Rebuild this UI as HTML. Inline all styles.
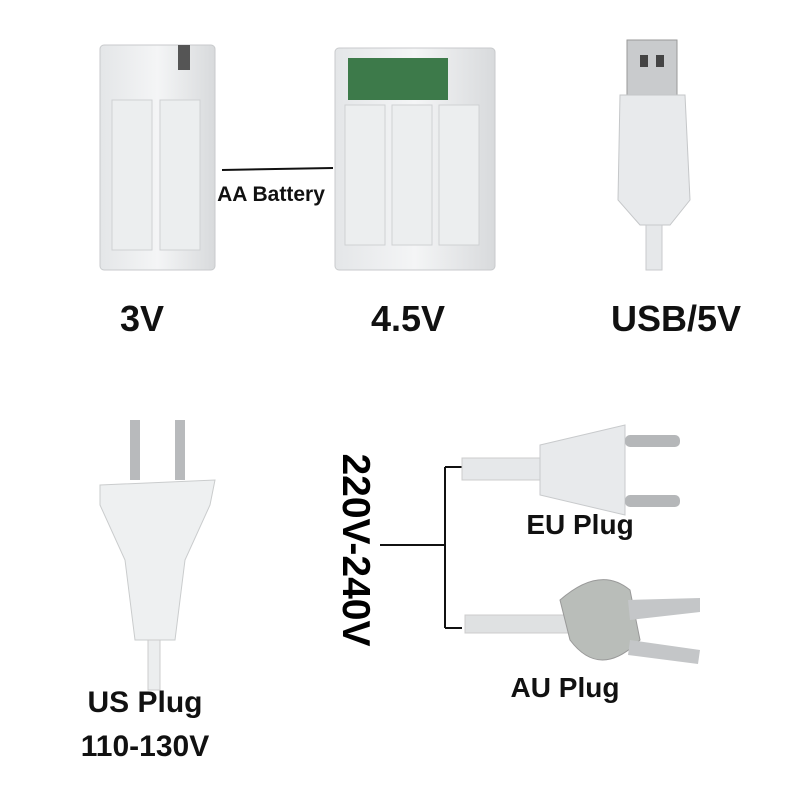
<!DOCTYPE html>
<html><head><meta charset="utf-8"><style>
body{margin:0;width:800px;height:800px;background:#fff;position:relative;overflow:hidden;font-family:"Liberation Sans",Arial,sans-serif}
.t{position:absolute;font-weight:bold;color:#111;white-space:nowrap;transform:translateX(-50%)}
</style></head><body>
<svg width="800" height="800" style="position:absolute;left:0;top:0">
<defs><linearGradient id="g" x1="0" x2="1"><stop offset="0" stop-color="#e4e6e8"/><stop offset="0.5" stop-color="#f4f5f6"/><stop offset="1" stop-color="#d8dadc"/></linearGradient></defs>
<rect x="100" y="45" width="115" height="225" rx="4" fill="url(#g)" stroke="#c8cacc"/>
<rect x="112" y="100" width="40" height="150" fill="#eceeef" stroke="#cfd1d3"/>
<rect x="160" y="100" width="40" height="150" fill="#eceeef" stroke="#cfd1d3"/>
<rect x="178" y="45" width="12" height="25" fill="#555"/>
<rect x="335" y="48" width="160" height="222" rx="4" fill="url(#g)" stroke="#c8cacc"/>
<rect x="348" y="58" width="100" height="42" fill="#3d7a4a"/>
<rect x="345" y="105" width="40" height="140" fill="#eceeef" stroke="#cfd1d3"/>
<rect x="392" y="105" width="40" height="140" fill="#eceeef" stroke="#cfd1d3"/>
<rect x="439" y="105" width="40" height="140" fill="#eceeef" stroke="#cfd1d3"/>
<rect x="627" y="40" width="50" height="60" fill="#c9cbcd" stroke="#999"/>
<rect x="640" y="55" width="8" height="12" fill="#444"/><rect x="656" y="55" width="8" height="12" fill="#444"/>
<path d="M620 95 L685 95 L690 200 L670 225 L640 225 L618 200 Z" fill="#e8eaec" stroke="#c5c7c9"/>
<rect x="646" y="225" width="16" height="45" fill="#e6e8ea" stroke="#c8cacc"/>
<line x1="222" y1="170" x2="333" y2="168" stroke="#111" stroke-width="2"/>
<rect x="130" y="420" width="10" height="60" fill="#b8babc"/><rect x="175" y="420" width="10" height="60" fill="#b8babc"/>
<path d="M100 485 L215 480 L210 505 L185 560 L175 640 L135 640 L125 560 L100 505 Z" fill="#eef0f1" stroke="#cacccd"/>
<rect x="148" y="640" width="12" height="50" fill="#eceeef" stroke="#ccc"/>
<line x1="380" y1="545" x2="445" y2="545" stroke="#111" stroke-width="2"/>
<line x1="445" y1="467" x2="445" y2="628" stroke="#111" stroke-width="2"/>
<line x1="445" y1="467" x2="462" y2="467" stroke="#111" stroke-width="2"/>
<line x1="445" y1="628" x2="462" y2="628" stroke="#111" stroke-width="2"/>
<rect x="462" y="458" width="80" height="22" fill="#e6e8ea" stroke="#ccc"/>
<path d="M540 445 L625 425 L625 515 L540 495 Z" fill="#e8eaec" stroke="#c8cacc"/>
<rect x="625" y="435" width="55" height="12" rx="5" fill="#b5b7b9"/><rect x="625" y="495" width="55" height="12" rx="5" fill="#b5b7b9"/>
<rect x="465" y="615" width="110" height="18" fill="#dfe1e2" stroke="#ccc"/>
<path d="M560 600 Q600 565 630 590 L640 640 Q600 680 570 640 Z" fill="#b9bdb9" stroke="#999"/>
<path d="M628 600 L700 598 L700 612 L630 620 Z" fill="#c4c6c8"/>
<path d="M630 640 L700 650 L698 664 L628 655 Z" fill="#c4c6c8"/>
</svg>
<div class="t" style="left:271px;top:183px;font-size:21px">AA Battery</div>
<div class="t" style="left:142px;top:298px;font-size:36px">3V</div>
<div class="t" style="left:408px;top:298px;font-size:36px">4.5V</div>
<div class="t" style="left:676px;top:298px;font-size:36px">USB/5V</div>
<div class="t" style="left:145px;top:686px;font-size:30px">US Plug</div>
<div class="t" style="left:145px;top:730px;font-size:30px">110-130V</div>
<div class="t" style="left:580px;top:509px;font-size:28px">EU Plug</div>
<div class="t" style="left:565px;top:672px;font-size:28px">AU Plug</div>
<div style="position:absolute;left:355px;top:550px;font-weight:bold;font-size:39px;white-space:nowrap;transform:translate(-50%,-50%) rotate(90deg)">220V-240V</div>
</body></html>
